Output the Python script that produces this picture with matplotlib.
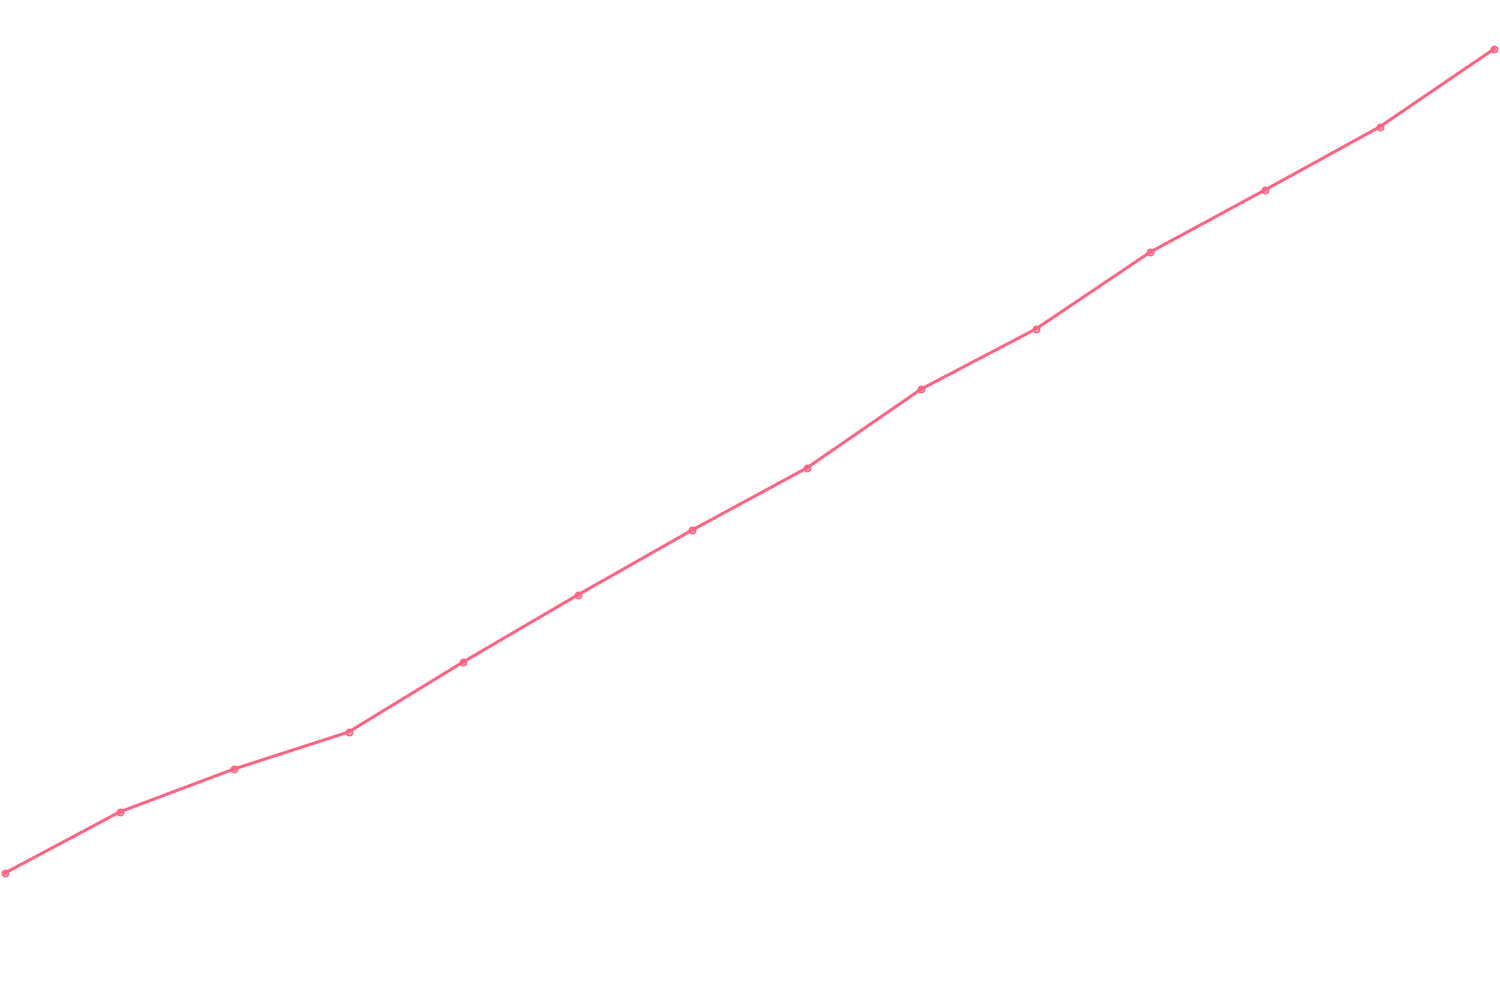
import matplotlib.pyplot as plt

# step index and values (arbitrary units)
steps = list(range(14))
values = [127, 188, 231, 268, 338, 405, 470, 532, 611, 671, 748, 810, 873, 951]

fig = plt.figure(figsize=(15, 10), dpi=100)
ax = fig.add_axes([0, 0, 1, 1])

ax.plot(steps, values, color='#ff6384', linewidth=2.2, zorder=2)
ax.plot(steps, values, linestyle='none', marker='o', markersize=4.5,
        markerfacecolor=(1, 0.388, 0.518, 0.5), markeredgecolor='#ff6384',
        markeredgewidth=1.2, zorder=3)

ax.set_xlim(-0.0437, 13.052)
ax.set_ylim(0, 1000)
ax.axis('off')

fig.savefig('out.png', dpi=100)
